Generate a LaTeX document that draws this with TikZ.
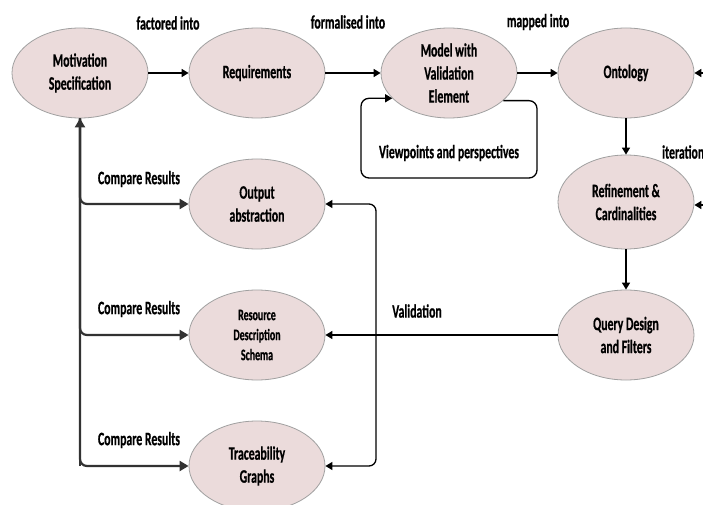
\documentclass[tikz,border=0pt]{standalone}
\usepackage{fontspec}
\newfontfamily\diagfont{Carlito}[FakeStretch=0.62, BoldFeatures={FakeBold=0.6}]
\usetikzlibrary{shapes.geometric,arrows.meta}

\definecolor{stagefill}{RGB}{235,219,219}
\definecolor{stageline}{RGB}{160,160,160}
\definecolor{treegrey}{RGB}{50,50,50}

\tikzset{
    stage/.style={ellipse, draw=stageline, fill=stagefill, line width=0.8pt,
        minimum width=136pt, minimum height=90pt, inner sep=0pt, align=center,
        font=\diagfont\bfseries\fontsize{19}{23}\selectfont},
    smallstage/.style={stage, font=\diagfont\bfseries\fontsize{16}{20}\selectfont},
    tag/.style={font=\diagfont\bfseries\fontsize{19}{23}\selectfont, inner sep=0pt},
    link/.style={-{Triangle[width=8pt,length=7pt]}, line width=1.5pt},
    treelink/.style={-{Triangle[width=10pt,length=9pt]}, color=treegrey, line width=2.2pt, rounded corners=7pt}
}

\begin{document}
\begin{tikzpicture}[x=1pt, y=-1pt]
    \clip (0,0) rectangle (703,505);
    \fill[white] (0,0) rectangle (703,505);
    % main chain
    \node[stage] (motiv) at (80,73) {Motivation\\Specification};
    \node[stage] (req) at (257,73) {Requirements};
    \node[stage] (model) at (449,73) {Model with\\Validation\\Element};
    \node[stage] (onto) at (626,73) {Ontology};
    \node[stage, minimum height=94pt] (refine) at (626,202) {Refinement \&\\Cardinalities};
    \node[stage] (query) at (626,335) {Query Design\\and Filters};
    % validation outputs
    \node[stage] (output) at (257,204) {Output\\abstraction};
    \node[smallstage] (resource) at (257,335) {Resource\\Description\\Schema};
    \node[stage] (trace) at (257,466) {Traceability\\Graphs};
    % labels
    \node[tag] (lfactored) at (168,23) {factored into};
    \node[tag] (lformal) at (348,22) {formalised into};
    \node[tag] (lmapped) at (538,22) {mapped into};
    \node[tag, anchor=west] (liter) at (662,152) {iteration};
    \node[tag] (lview) at (449,153) {Viewpoints and perspectives};
    \node[tag] (lvalid) at (417,311) {Validation};
    \node[tag] (lcmp1) at (139,179) {Compare Results};
    \node[tag] (lcmp2) at (139,309) {Compare Results};
    \node[tag] (lcmp3) at (139,440) {Compare Results};
    % helper points
    \coordinate (iterin1) at (720,73);
    \coordinate (iterin2) at (720,205);
    \coordinate (brace) at (376,335);
    \coordinate (vpne) at (537,100);
    \coordinate (vpsw) at (361,178);
    % connectors
    \draw[link] (motiv) -- (req);
    \draw[link] (req) -- (model);
    \draw[link] (model) -- (onto);
    \draw[link] (onto) -- (refine);
    \draw[link] (refine) -- (query);
    \draw[link] (iterin1) -- (onto.east);
    \draw[link] (iterin2) -- (refine.east |- iterin2);
    \draw[link, line width=1.3pt, rounded corners=8pt] (model.-27) -- (model.-27 -| vpne)
        -- (vpne |- vpsw) -- (vpsw) -- (vpsw |- model.204) -- (model.204);
    \draw[link] (query.west) -- (resource.east);
    \draw[link, rounded corners=7pt, line width=1.3pt] (brace) |- (output.east);
    \draw[link, rounded corners=7pt, line width=1.3pt] (brace) |- (trace.east);
    \draw[treelink] (trace.west -| motiv.south) -- (motiv.south);
    \draw[treelink] (motiv.south) |- (output.west);
    \draw[treelink] (motiv.south) |- (resource.west);
    \draw[treelink] (motiv.south) |- (trace.west);
\end{tikzpicture}
\end{document}
